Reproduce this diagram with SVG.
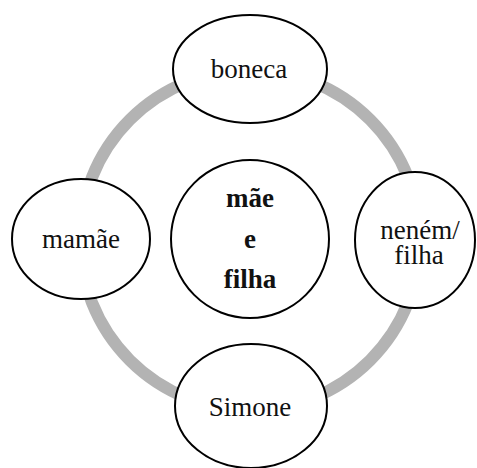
<svg xmlns="http://www.w3.org/2000/svg" width="477" height="468" viewBox="0 0 477 468" font-family="Times New Roman, Liberation Serif, serif">
<style>
text{font-family:"Liberation Serif","Times New Roman",Tinos,serif;font-size:27px;fill:#111;text-anchor:middle}
.node{fill:#fff;stroke:#000;stroke-width:2}
</style>
<rect width="477" height="468" fill="#fff"/>
<g id="connectors">
<circle cx="250" cy="240" r="170" fill="none" stroke="#b3b3b3" stroke-width="12"/>
</g>
<g id="center">
<circle class="node" cx="250" cy="239" r="79"/>
<text x="250" y="207" font-weight="bold">mãe</text>
<text x="250" y="248" font-weight="bold">e</text>
<text x="250" y="288" font-weight="bold">filha</text>
</g>
<g id="boneca">
<ellipse class="node" cx="250" cy="69" rx="77" ry="54"/>
<text x="249" y="78">boneca</text>
</g>
<g id="mamae">
<ellipse class="node" cx="81" cy="239" rx="69" ry="60"/>
<text x="81" y="248">mamãe</text>
</g>
<g id="nenem">
<ellipse class="node" cx="415" cy="240" rx="60" ry="68"/>
<text x="420" y="239">neném/</text>
<text x="419" y="264">filha</text>
</g>
<g id="simone">
<ellipse class="node" cx="251" cy="406" rx="76" ry="62"/>
<text x="250" y="416">Simone</text>
</g>
</svg>
